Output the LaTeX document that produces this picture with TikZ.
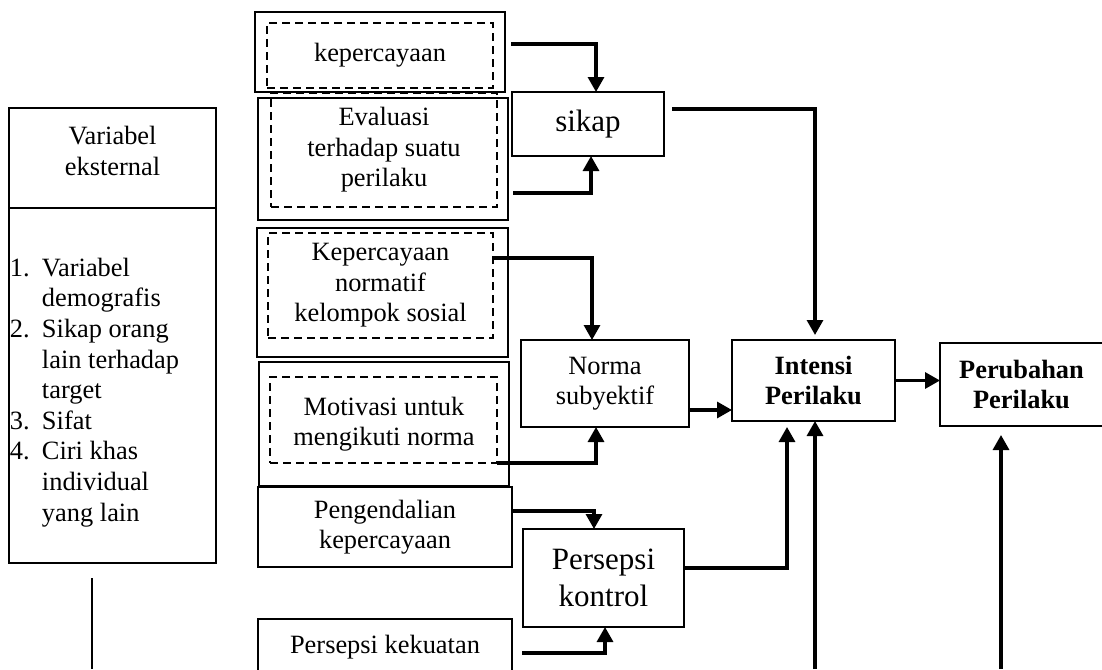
\documentclass[tikz,border=0pt]{standalone}
\usepackage{fontspec}
\setmainfont{Liberation Serif}
\usetikzlibrary{arrows.meta}

\begin{document}
\begin{tikzpicture}[
  x=0.5pt, y=-0.5pt,
  every node/.style={inner sep=0pt, outer sep=0pt, align=center, font=\fontsize{13.2}{15.3}\selectfont},
  outer/.style={draw, line width=1.1pt},
  inner/.style={draw, line width=1pt, dash pattern=on 4pt off 2.5pt},
  box/.style={draw, line width=1.1pt},
  big/.style={font=\fontsize{15.5}{18.5}\selectfont},
  bold/.style={font=\fontsize{13.2}{15.3}\selectfont\bfseries},
  arr/.style={line width=1.6pt, -{Triangle[width=8pt,length=7.5pt]}},
  line/.style={line width=1.3pt}
]
  \useasboundingbox (0,0) rectangle (1102,669);

  % variabel eksternal
  \node[box, minimum width=103.5pt, minimum height=227.5pt] (ext) at (112.5,335.5) {};
  \draw[box] ([yshift=-50pt]ext.north west) -- ([yshift=-50pt]ext.north east);
  \node (exth) at (112.5,151) {Variabel\\eksternal};
  \node[anchor=north west, align=left] (extl) at (10,258) {%
    \makebox[16pt][l]{1.}Variabel\\\hspace*{16pt}demografis\\
    \makebox[16pt][l]{2.}Sikap orang\\\hspace*{16pt}lain terhadap\\\hspace*{16pt}target\\
    \makebox[16pt][l]{3.}Sifat\\
    \makebox[16pt][l]{4.}Ciri khas\\\hspace*{16pt}individual\\\hspace*{16pt}yang lain};
  \coordinate (e1) at (92,578);
  \coordinate (e2) at (92,669);
  \draw[line] (e1) -- (e2);

  % kolom kiri
  \node[outer, minimum width=125pt, minimum height=40pt] (kepO) at (380,52) {};
  \node[inner, minimum width=113pt, minimum height=32.5pt] (kepD) at (380,55.5) {kepercayaan};
  \node[outer, minimum width=125pt, minimum height=61pt] (evalO) at (383,159) {};
  \node[inner, minimum width=113pt, minimum height=57pt] (evalD) at (384,150) {Evaluasi\\terhadap suatu\\perilaku};
  \node[outer, minimum width=125.5pt, minimum height=64.5pt] (normO) at (382.5,292.5) {};
  \node[inner, minimum width=112.5pt, minimum height=52.5pt] (normD) at (380.5,285.5) {Kepercayaan\\normatif\\kelompok sosial};
  \node[outer, minimum width=125pt, minimum height=62pt] (motO) at (384,424) {Motivasi untuk\\mengikuti norma};
  \node[inner, minimum width=113.5pt, minimum height=43pt] (motD) at (383.5,420) {};
  \node[box, minimum width=127pt, minimum height=40pt] (pengB) at (385,527) {Pengendalian\\kepercayaan};
  \node[box, minimum width=127pt, minimum height=28pt] (kekB) at (385,647) {Persepsi kekuatan};

  % kolom tengah
  \node[box, big, minimum width=76pt, minimum height=32pt] (sikap) at (588,124) {sikap};
  \node[box, minimum width=84pt, minimum height=43.5pt] (norma) at (605,383.5) {Norma\\subyektif};
  \node[box, big, minimum width=80.5pt, minimum height=49pt] (kontrol) at (603.5,578) {Persepsi\\kontrol};
  \node[box, bold, minimum width=81.5pt, minimum height=40.5pt] (intensi) at (813.5,380.5) {Intensi\\Perilaku};
  \node[box, bold, minimum width=81.5pt, minimum height=41.5pt] (perubahan) at (1021.5,384.5) {Perubahan\\Perilaku};

  \draw[arr] ([xshift=3pt,yshift=4pt]kepO.east) -| ([xshift=4pt]sikap.north);
  \draw[arr] ([xshift=2.5pt,yshift=-17pt]evalO.east) -| ([xshift=1.5pt]sikap.south);
  \draw[arr, shorten >=2.5pt] ([xshift=4pt,yshift=7.5pt]sikap.east) -| ([xshift=0.75pt]intensi.north);
  \draw[arr] ([yshift=13.75pt]normD.east) -| ([xshift=-6.5pt]norma.north);
  \draw[arr] (motD.south east) -| ([xshift=-4.5pt]norma.south);
  \coordinate (nr) at ([yshift=-13.25pt]norma.east);
  \draw[arr] (nr) -- (nr -| intensi.west);
  \draw[arr] (intensi.east) -- (intensi.east -| perubahan.west);
  \draw[arr] ([yshift=8pt]pengB.east) -| ([xshift=-4.75pt]kontrol.north);
  \draw[arr] ([xshift=5pt,yshift=-3pt]kekB.east) -| ([xshift=0.75pt]kontrol.south);
  \draw[arr, shorten >=3pt] ([yshift=5pt]kontrol.east) -| ([xshift=-13.25pt]intensi.south);
  \coordinate (b1) at (815,669);
  \coordinate (b2) at (1001,669);
  \draw[arr] (b1) -- (b1 |- intensi.south);
  \draw[arr, shorten >=4.5pt] (b2) -- (b2 |- perubahan.south);
\end{tikzpicture}
\end{document}
